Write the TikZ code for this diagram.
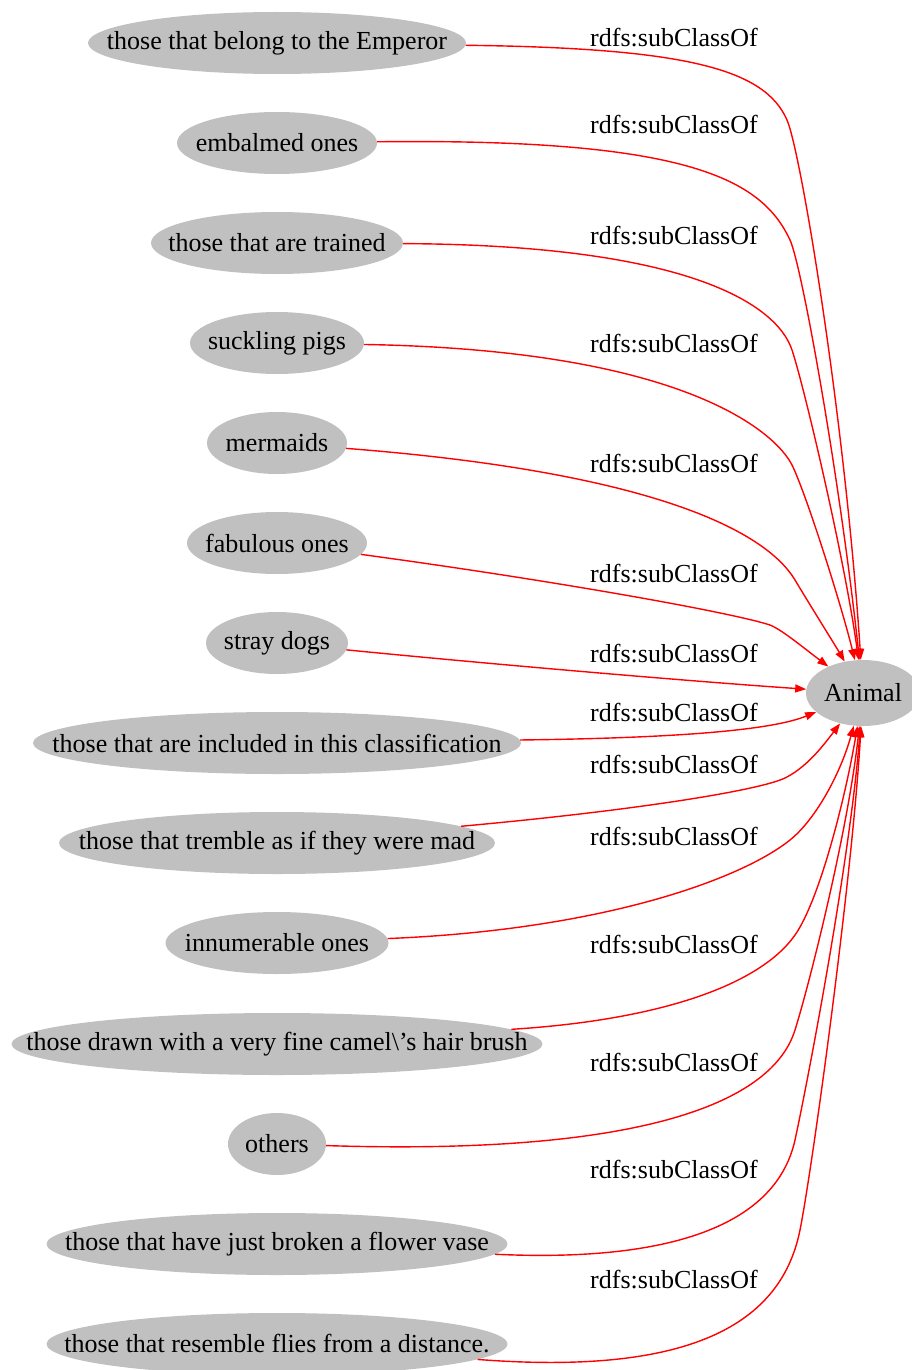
\documentclass[tikz,border=0pt]{standalone}
\usepackage{fontspec}
\setmainfont{Liberation Serif}
\usetikzlibrary{shapes.geometric,arrows.meta}
\definecolor{nodegray}{HTML}{C0C0C0}
\definecolor{edgered}{HTML}{FF0000}
% zero-width text box so the ellipse size comes only from the minimum sizes
\newcommand{\ctext}[1]{\makebox[0pt][c]{#1}}
\begin{document}
\begin{tikzpicture}[x=1pt,y=-1pt,
  cls/.style={ellipse, fill=nodegray, inner sep=0pt, minimum height=62pt,
    font=\fontsize{26}{30}\selectfont},
  rel/.style={draw=edgered, line width=1.4pt,
    -{Triangle[length=11pt,width=8pt]}, fill=none},
  lbl/.style={font=\fontsize{26}{30}\selectfont, inner sep=0pt}]
\useasboundingbox (0,0) rectangle (912,1370);
\clip (0,0) rectangle (912,1370);

% class nodes
\node[cls, minimum width=378pt] (n1)  at (277,43)   {\ctext{those that belong to the Emperor}};
\node[cls, minimum width=200pt] (n2)  at (277,143)  {\ctext{embalmed ones}};
\node[cls, minimum width=252pt] (n3)  at (277,243)  {\ctext{those that are trained}};
\node[cls, minimum width=174pt] (n4)  at (277,343)  {\ctext{suckling pigs}};
\node[cls, minimum width=140pt] (n5)  at (277,443)  {\ctext{mermaids}};
\node[cls, minimum width=180pt] (n6)  at (277,543)  {\ctext{fabulous ones}};
\node[cls, minimum width=142pt] (n7)  at (277,643)  {\ctext{stray dogs}};
\node[cls, minimum width=488pt] (n8)  at (277,743)  {\ctext{those that are included in this classification}};
\node[cls, minimum width=436pt] (n9)  at (277,843)  {\ctext{those that tremble as if they were mad}};
\node[cls, minimum width=223pt] (n10) at (277,943)  {\ctext{innumerable ones}};
\node[cls, minimum width=531pt] (n11) at (277,1044) {\ctext{those drawn with a very fine camel\textbackslash's hair brush}};
\node[cls, minimum width=98pt]  (n12) at (277,1144) {\ctext{others}};
\node[cls, minimum width=461pt] (n13) at (277,1244) {\ctext{those that have just broken a flower vase}};
\node[cls, minimum width=461pt] (n14) at (277,1344) {\ctext{those that resemble flies from a distance.}};
\node[cls, minimum width=114pt, minimum height=66pt] (animal) at (863,693) {\ctext{Animal}};

% edge labels
\node[lbl] (l1)  at (674,38)   {rdfs:subClassOf};
\node[lbl] (l2)  at (674,125)  {rdfs:subClassOf};
\node[lbl] (l3)  at (674,236)  {rdfs:subClassOf};
\node[lbl] (l4)  at (674,344)  {rdfs:subClassOf};
\node[lbl] (l5)  at (674,464)  {rdfs:subClassOf};
\node[lbl] (l6)  at (674,574)  {rdfs:subClassOf};
\node[lbl] (l7)  at (674,654)  {rdfs:subClassOf};
\node[lbl] (l8)  at (674,713)  {rdfs:subClassOf};
\node[lbl] (l9)  at (674,765)  {rdfs:subClassOf};
\node[lbl] (l10) at (674,837)  {rdfs:subClassOf};
\node[lbl] (l11) at (674,945)  {rdfs:subClassOf};
\node[lbl] (l12) at (674,1063) {rdfs:subClassOf};
\node[lbl] (l13) at (674,1170) {rdfs:subClassOf};
\node[lbl] (l14) at (674,1280) {rdfs:subClassOf};

% subclass edges: run right from each class, round a bend near x=775,
% then sweep to Animal
\path[rel] (n1) .. controls (690,48) and (765,70) .. (787,120)
  .. controls (801,152) and (845,420) .. (animal);
\path[rel] (n2) .. controls (690,138) and (762,180) .. (790,240)
  .. controls (802,266) and (840,480) .. (animal);
\path[rel] (n3) .. controls (690,245) and (777,305) .. (792,350)
  .. controls (804,386) and (845,560) .. (animal);
\path[rel] (n4) .. controls (690,350) and (777,435) .. (792,465)
  .. controls (805,491) and (840,600) .. (animal);
\path[rel] (n5) .. controls (650,472) and (765,530) .. (795,580)
  .. controls (813,610) and (835,645) .. (animal);
\path[rel] (n6) .. controls (550,580) and (730,612) .. (770,625)
  .. controls (782,630) and (800,645) .. (animal);
\path[rel] (n7) .. controls (500,665) and (700,682) .. (animal);
\path[rel] (n8) .. controls (680,738) and (772,730) .. (animal);
\path[rel] (n9) .. controls (640,810) and (760,790) .. (785,778)
  .. controls (805,768) and (820,750) .. (animal);
\path[rel] (n10) .. controls (600,930) and (740,880) .. (790,840)
  .. controls (815,820) and (840,775) .. (animal);
\path[rel] (n11) .. controls (660,1020) and (760,985) .. (795,935)
  .. controls (819,901) and (845,800) .. (animal);
\path[rel] (n12) .. controls (620,1155) and (770,1110) .. (795,1030)
  .. controls (810,982) and (848,830) .. (animal);
\path[rel] (n13) .. controls (660,1262) and (775,1230) .. (795,1140)
  .. controls (808,1080) and (850,860) .. (animal);
\path[rel] (n14) .. controls (680,1375) and (780,1330) .. (800,1230)
  .. controls (812,1170) and (852,880) .. (animal);
\end{tikzpicture}
\end{document}
